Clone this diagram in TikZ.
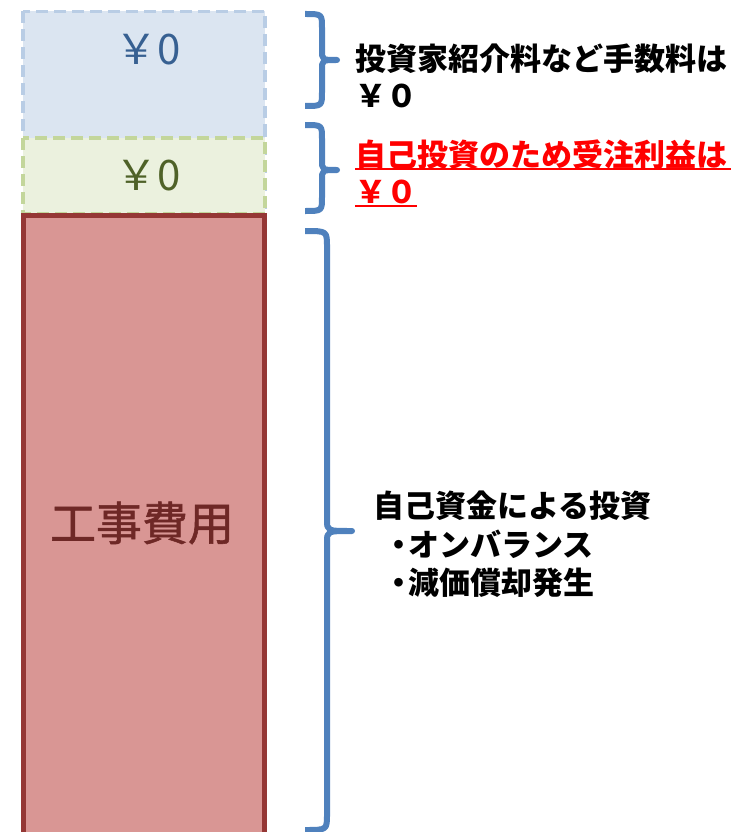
\documentclass[tikz,border=0pt]{standalone}
\usepackage{fontspec}
\newfontfamily\cjk{Noto Sans CJK JP}
\newfontfamily\cjkmed[FakeBold=1.2]{Noto Sans CJK JP}
\definecolor{bluefill}{RGB}{219,229,241}
\definecolor{blueline}{RGB}{185,205,229}
\definecolor{greenfill}{RGB}{235,241,222}
\definecolor{greenline}{RGB}{195,214,155}
\definecolor{redfill}{RGB}{217,150,148}
\definecolor{redline}{RGB}{149,55,53}
\definecolor{bluetext}{RGB}{55,96,146}
\definecolor{greentext}{RGB}{79,98,40}
\definecolor{redtext}{RGB}{110,40,38}
\definecolor{bracecol}{RGB}{79,129,189}
\definecolor{alertred}{RGB}{255,0,0}
\tikzset{
  boxtext/.style={inner sep=0pt, font=\cjk\fontsize{42}{46}\selectfont},
  side/.style={inner sep=0pt, anchor=base west, font=\cjk\bfseries\fontsize{31}{37}\selectfont},
  bracket/.style={draw=bracecol, line width=6pt, line cap=butt, line join=round},
  uline/.style={draw=alertred, line width=2pt}
}
\begin{document}
\begin{tikzpicture}[x=1pt,y=-1pt]
\useasboundingbox (0,0) rectangle (748,832);
% boxes
\draw[fill=bluefill, draw=blueline, line width=3.5pt, dash pattern=on 12pt off 6pt] (23,11.5) rectangle (265,214);
\draw[fill=greenfill, draw=greenline, line width=3.5pt, dash pattern=on 12pt off 6pt] (23,138) rectangle (265,214);
\draw[fill=redfill, draw=redline, line width=5pt] (23,215) rectangle (264.5,845);
\node[boxtext, text=bluetext] (y1) at (148,50) {￥0};
\node[boxtext, text=greentext] (y2) at (148,176) {￥0};
\node[inner sep=0pt, text=redtext, font=\cjkmed\fontsize{46}{50}\selectfont] (cost) at (142,523) {工事費用};
% braces
\draw[bracket] (305,14) .. controls (322,14) .. (322,28) -- (322,50) .. controls (322,60) .. (337,60)
  .. controls (322,60) .. (322,70) -- (322,92) .. controls (322,106) .. (305,106);
\draw[bracket] (305,125) .. controls (322,125) .. (322,139) -- (322,160) .. controls (322,170) .. (337,170)
  .. controls (322,170) .. (322,180) -- (322,197) .. controls (322,211) .. (305,211);
\draw[bracket] (305,231) .. controls (327,231) .. (327,247) -- (327,520) .. controls (327,531) .. (352,531)
  .. controls (327,531) .. (327,542) -- (327,814) .. controls (327,830) .. (305,830);
% side texts
\node[side] (a1) at (355,71) {投資家紹介料など手数料は};
\node[side] (a2) at (355,108) {￥０};
\node[side, text=alertred] (b1) at (355,166) {自己投資のため受注利益は};
\node[side, text=alertred] (b2) at (355,203) {￥０};
\draw[uline] ([yshift=-3pt]b1.base west) -- ([yshift=-3pt,xshift=4pt]b1.base east);
\draw[uline] ([yshift=-3pt]b2.base west) -- ([yshift=-3pt]b2.base east);
\node[side] (c1) at (373,517) {自己資金による投資};
\node[side] (c2) at (383,556) {・\kern-6pt オンバランス};
\node[side] (c3) at (383,594) {・\kern-6pt 減価償却発生};
\end{tikzpicture}
\end{document}
